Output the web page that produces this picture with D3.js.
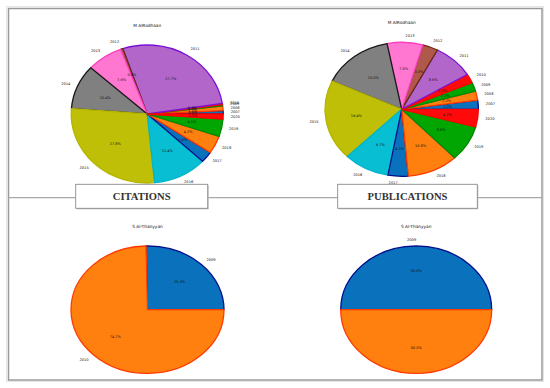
<!DOCTYPE html>
<html><head><meta charset="utf-8">
<script src="https://cdn.jsdelivr.net/npm/d3@7"></script>
<style>html,body{margin:0;padding:0;background:#fff;}svg{display:block;}</style>
</head><body>
<svg id="chart" width="550" height="388"></svg>
<script>
// ---- data ----
const yearsM = ["2007","2008","2009","2010","2011","2012","2013","2014","2015","2016","2017","2018","2019","2020"];
const citationsM = [0.8, 1.1, 0.3, 0.3, 27.9, 0.5, 7.7, 10.5, 28.0, 11.5, 2.6, 4.2, 4.1, 1.2];
const publicationsM = [2.2, 2.2, 2.2, 2.2, 8.7, 3.3, 7.6, 15.2, 19.6, 9.8, 4.3, 10.9, 8.7, 4.3];
const yearsS = ["2009","2010"];
const citationsS = [25.3, 74.7];
const publicationsS = [50.0, 50.0];
const authorTop = "M AlRodhaan";
const authorBottom = "S Al-Thanyyan";
const sectionLabels = ["CITATIONS", "PUBLICATIONS"];
const fillColors = ["#0a72bc","#ff800e","#02a602","#ff0a0a","#b266c9","#b0584a","#ff77d0","#808080","#bfbf08","#08bed3"];
const edgeColors = ["#00108c","#ff3a00","#008a00","#ff0000","#7a10d8","#6b2a10","#ff3fc0","#1a1a1a","#b5b500","#00b5cc"];

// ---- drawing ----
const svg = d3.select("#chart");
const fmt = v => d3.format(".1f")(v) + "%";

svg.append("defs").append("clipPath").attr("id","frameClip")
  .append("rect").attr("x",9).attr("y",9).attr("width",532).attr("height",367);

const content = svg.append("g").attr("clip-path","url(#frameClip)");

function drawPie(cx, cy, rx, ry, labels, values, title, titleY) {
  const g = content.append("g");
  const pie = d3.pie().sort(null).startAngle(Math.PI/2).endAngle(Math.PI/2 - 2*Math.PI);
  const arcs = pie(values);
  const total = d3.sum(values);
  const arc = d3.arc().innerRadius(0).outerRadius(rx);
  const pg = g.append("g").attr("transform", `translate(${cx},${cy}) scale(1,${ry/rx})`);
  pg.selectAll("path").data(arcs).join("path")
    .attr("d", arc)
    .attr("fill", (d,i) => fillColors[i % fillColors.length])
    .attr("stroke", (d,i) => edgeColors[i % edgeColors.length])
    .attr("stroke-width", 1.3)
    .attr("stroke-linejoin","round")
    .attr("vector-effect","non-scaling-stroke");
  const pos = (d, k) => {
    const a = (d.startAngle + d.endAngle)/2;
    return [cx + k*rx*Math.sin(a), cy - k*ry*Math.cos(a), Math.sin(a)];
  };
  g.selectAll("text.yr").data(arcs).join("text").attr("class","yr")
    .attr("x", d => pos(d,1.1)[0]).attr("y", d => pos(d,1.1)[1])
    .attr("text-anchor", d => pos(d,1.1)[2] >= 0 ? "start" : "end")
    .attr("dominant-baseline","central")
    .attr("font-family","DejaVu Sans").attr("font-size",3.6).attr("fill","#111")
    .text((d,i) => labels[i]);
  g.selectAll("text.pc").data(arcs).join("text").attr("class","pc")
    .attr("x", d => pos(d,0.6)[0]).attr("y", d => pos(d,0.6)[1])
    .attr("text-anchor","middle").attr("dominant-baseline","central")
    .attr("font-family","DejaVu Sans").attr("font-size",3.5).attr("fill","#111")
    .text(d => fmt(d.value/total*100));
  g.append("text").attr("x", cx).attr("y", titleY)
    .attr("text-anchor","middle").attr("dominant-baseline","central")
    .attr("font-family","DejaVu Sans").attr("font-size",4.3).attr("fill","#111")
    .text(title);
}

drawPie(147.2, 114, 76, 69, yearsM, citationsM, authorTop, 25);
drawPie(401.7, 109.3, 76.7, 67, yearsM, publicationsM, authorTop, 22.3);
drawPie(147.5, 309.7, 76.5, 63.7, yearsS, citationsS, authorBottom, 226.7);
drawPie(416.2, 309.7, 75.5, 63.7, yearsS, publicationsS, authorBottom, 226.7);

// frame and divider
svg.append("rect").attr("x",6.5).attr("y",6.5).attr("width",537).attr("height",375)
  .attr("fill","none").attr("stroke","#e4e4e4").attr("stroke-width",1);
svg.append("rect").attr("x",8.5).attr("y",8.5).attr("width",533.5).attr("height",371.5)
  .attr("fill","none").attr("stroke","#9a9a9a").attr("stroke-width",1.5);
svg.append("line").attr("x1",8.5).attr("x2",542).attr("y1",197.7).attr("y2",197.7)
  .attr("stroke","#a8a8a8").attr("stroke-width",1.2);

const boxes = [{x:75.7, w:132, label:sectionLabels[0]}, {x:337.7, w:139.6, label:sectionLabels[1]}];
boxes.forEach(b => {
  svg.append("rect").attr("x", b.x+1).attr("y", 185.3).attr("width", b.w).attr("height", 24)
    .attr("fill","#bdbdbd");
  svg.append("rect").attr("x", b.x).attr("y", 184.3).attr("width", b.w).attr("height", 24)
    .attr("fill","#fff").attr("stroke","#8c8c8c").attr("stroke-width",0.9);
  svg.append("text").attr("x", b.x + b.w/2).attr("y", 196.5)
    .attr("text-anchor","middle").attr("dominant-baseline","central")
    .attr("font-family","Liberation Serif").attr("font-weight","bold")
    .attr("font-size",10.6).attr("fill","#333").text(b.label);
});
</script>
</body></html>
